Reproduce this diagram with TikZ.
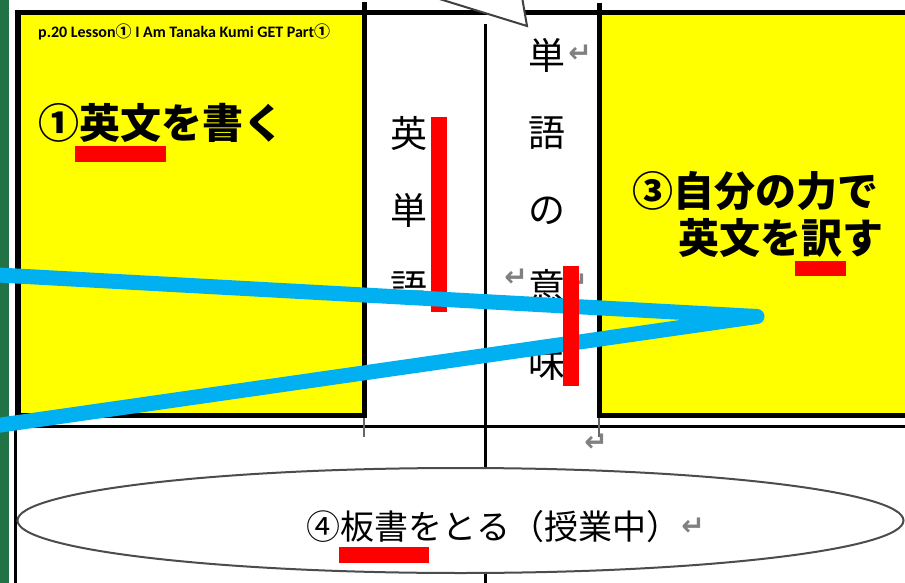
\documentclass[tikz,border=0pt]{standalone}
\usepackage{fontspec}
\setmainfont{Carlito}
\newfontfamily\jp{Noto Sans CJK JP}
\newfontfamily\dv{DejaVu Sans}
\usetikzlibrary{shapes.geometric}
\definecolor{xlgreen}{HTML}{217346}
\definecolor{ylw}{HTML}{FFFF00}
\definecolor{cyanline}{HTML}{00B0F0}
\definecolor{redmark}{HTML}{FF0000}
\definecolor{retgray}{HTML}{808080}
\begin{document}
\begin{tikzpicture}[x=1pt,y=-1pt,
  bordthick/.style={line width=5pt, draw=black},
  bordthin/.style={line width=3pt, draw=black},
  bordtick/.style={line width=2pt, draw=black!60},
  ybox/.style={fill=ylw, draw=none},
  redbar/.style={fill=redmark, draw=none},
  bigjp/.style={font=\jp\bfseries\fontsize{41}{41}\selectfont, inner sep=0, anchor=west},
  coljp/.style={font=\jp\fontsize{37}{77}\selectfont, inner sep=0, align=center},
  ovaltext/.style={font=\jp\fontsize{34}{34}\selectfont, inner sep=0, anchor=west},
  retmark/.style={font=\dv\bfseries\fontsize{28}{28}\selectfont, text=retgray, inner sep=0},
  bluepath/.style={line width=15pt, draw=cyanline, line cap=round, line join=round},
]
\useasboundingbox (0,0) rectangle (905,583);
\fill[white] (0,0) rectangle (905,583);
\fill[xlgreen] (0,0) rectangle (9,583);
% yellow boxes
\path[ybox] (21,15) rectangle (362,413);
\path[ybox] (602,15) rectangle (905,413);
% column divider (behind oval)
\draw[bordthin] (485.5,24) -- (485.5,583);
% borders
\draw[bordthick] (15,12.5) -- (905,12.5);
\draw[line width=6pt] (18,10) -- (18,418);
\draw[bordthin] (15.5,417) -- (15.5,583);
\draw[bordthick] (364.5,2) -- (364.5,418);
\draw[bordthick] (599.5,3) -- (599.5,418);
\draw[bordthick] (15,415.5) -- (367,415.5);
\draw[bordthick] (597,415.5) -- (905,415.5);
\draw[bordthin] (15,426) -- (905,426);
\draw[bordtick] (364,418) -- (364,437);
\draw[bordtick] (599,418) -- (599,437);
% callout tail
\path[fill=white, draw=black!75, line width=2pt] (433,-3) -- (527,26) -- (522,-3);
% oval
\node[ellipse, draw=black!70, line width=2pt, fill=white, minimum width=886pt, minimum height=105pt, inner sep=0] (oval) at (460.5,520.5) {};
% title
\node[anchor=base west, inner sep=0, font=\bfseries\fontsize{16}{16}\selectfont] (title) at (38,38) {p.20 Lesson{\jp ①} I Am Tanaka Kumi GET Part{\jp ①}};
% box texts
\node[bigjp] (t1) at (38,123) {①英文を書く};
\node[bigjp] (t3a) at (632,191) {③自分の力で};
\node[bigjp] (t3b) at (678,238) {英文を訳す};
% column texts
\node[coljp] (c2) at (408.5,210) {英\\単\\語};
\node[coljp] (c3) at (546.5,209) {単\\語\\の\\意\\味};
% oval text
\node[ovaltext] (t4) at (306,527) {④板書をとる（授業中）};
% return marks
\node[retmark] (r1) at (580,54) {↵};
\node[retmark] (r2) at (516,278) {↵};
\node[retmark] (r3) at (576,283) {↵};
\node[retmark] (r4) at (596,443) {↵};
\node[retmark] (r5) at (693,527) {↵};
% red marks (under blue)
\path[redbar] (431,117) rectangle (447,312);
% blue lines
\coordinate (bl1) at (-20,274);
\coordinate (tip) at (757,316.5);
\coordinate (bl2) at (-20,428);
\draw[bluepath] (bl1) -- (tip) -- (bl2);
% red marks (over blue)
\path[redbar] (563,266) rectangle (579,386);
\path[redbar] (75,146) rectangle (166,162);
\path[redbar] (795,261) rectangle (846,276);
\path[redbar] (339,547) rectangle (429,563);
\end{tikzpicture}
\end{document}
